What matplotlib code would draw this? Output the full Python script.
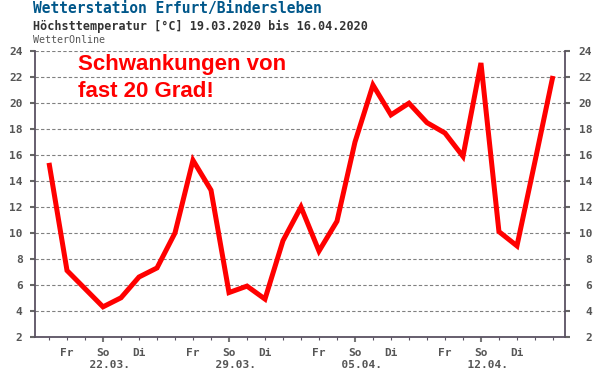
#!/usr/bin/python3
#
# plot.py
#
# Hoechsttemperatur Erfurt/Bindersleben, 19.03. - 16.04.2020

import numpy as np
import pandas as pd
import matplotlib
matplotlib.use('Agg')
import matplotlib.pyplot as plt
import matplotlib.transforms as mtransforms


# daily maximum temperature [degC], one value per day
start_day = '2020-03-19'
tmax = [15.4, 7.1, 5.7, 4.3, 5.0, 6.6, 7.3, 10.0, 15.6, 13.3,
        5.4, 5.9, 4.9, 9.4, 12.0, 8.6, 10.9, 17.0, 21.4, 19.1,
        20.0, 18.5, 17.7, 15.9, 23.1, 10.1, 9.0, 15.5, 22.1]

weekday_names = ['Mo', 'Di', 'Mi', 'Do', 'Fr', 'Sa', 'So']
labelled_days = ['Fr', 'Di']
y_ticks = list(range(2, 25, 2))

title = 'Wetterstation Erfurt/Bindersleben'
subtitle = 'Höchsttemperatur [°C] 19.03.2020 bis 16.04.2020'
source = 'WetterOnline'
note = ['Schwankungen von', 'fast 20 Grad!']


def build_ticks(days):
    # Sundays get a big tick plus the date, Fr and Di only a name
    idx = np.arange(len(days))
    major, major_lab, minor_lab = [], [], []
    for ii, d in enumerate(days):
        name = weekday_names[d.weekday()]
        if name == 'So':
            major.append(ii)
            major_lab.append('So\n  ' + d.strftime('%d.%m.'))
        minor_lab.append(name if name in labelled_days else '')
    return idx, major, major_lab, minor_lab


if __name__ == '__main__':

    days = pd.date_range(start_day, periods=len(tmax), freq='D')
    idx, major, major_lab, minor_lab = build_ticks(days)

    grey = '#555555'
    frame = '#5a5262'
    mono = 'DejaVu Sans Mono'

    fig = plt.figure(figsize=(6.01, 3.71), dpi=100)
    ax = fig.add_axes([0.0582, 0.0925, 0.8819, 0.7692])

    ax.plot(idx, tmax, color='#ff0000', lw=3.6, solid_joinstyle='miter',
            solid_capstyle='butt', zorder=3)

    ax.set_xlim(-0.78, 28.67)
    ax.set_ylim(2, 24)

    # frame: left, right, bottom only
    ax.spines['top'].set_visible(False)
    for s in ['left', 'right', 'bottom']:
        ax.spines[s].set_color(frame)
        ax.spines[s].set_linewidth(1.3)

    # y axis, labels on both sides, both right aligned
    ax.set_yticks(y_ticks)
    ax.yaxis.grid(True, ls=(0, (3, 2)), color='#808080', lw=0.8)
    ax.tick_params(axis='y', which='major', left=True, right=True,
                   labelleft=True, labelright=True, length=3.6, width=1.5,
                   color='#666666', labelcolor=grey, pad=5.3)
    off = mtransforms.ScaledTranslation(0.27 - (5.3 + 3.6) / 72.0, 0,
                                        fig.dpi_scale_trans)
    for tick in ax.yaxis.get_major_ticks():
        for lab in (tick.label1, tick.label2):
            lab.set_fontfamily(mono)
            lab.set_fontweight('bold')
            lab.set_fontsize(8)
        tick.label2.set_horizontalalignment('right')
        tick.label2.set_transform(tick.label2.get_transform() + off)

    # x axis: day ticks, Sunday ticks bigger
    ax.set_xticks(major, labels=major_lab)
    ax.set_xticks(idx, labels=minor_lab, minor=True)
    ax.tick_params(axis='x', which='major', length=3.6, width=1.5,
                   color='#777777', pad=4.6)
    ax.tick_params(axis='x', which='minor', length=2.2, width=0.8,
                   color=frame, pad=6.0)
    for lab in ax.get_xticklabels(which='both'):
        lab.set_fontfamily(mono)
        lab.set_fontweight('bold')
        lab.set_fontsize(8)
        lab.set_color(grey)
        lab.set_linespacing(1.2)

    # header
    fig.text(33 / 601, 1 - 9 / 371, title, family=mono, weight='bold',
             size=10.5, color='#00578a', ha='left', va='center')
    fig.text(33 / 601, 1 - 26 / 371, subtitle, family=mono, weight='bold',
             size=8.5, color='#333333', ha='left', va='center')
    fig.text(33 / 601, 1 - 40 / 371, source, family=mono,
             size=7.2, color=grey, ha='left', va='center')

    # red comment in the plot
    fig.text(78 / 601, 1 - 70 / 371, note[0], family='Liberation Sans',
             weight='bold', size=16, color='#ff0000', ha='left', va='baseline')
    fig.text(78 / 601, 1 - 96.7 / 371, note[1], family='Liberation Sans',
             weight='bold', size=16, color='#ff0000', ha='left', va='baseline')

    fig.savefig('out.png', dpi=100)
